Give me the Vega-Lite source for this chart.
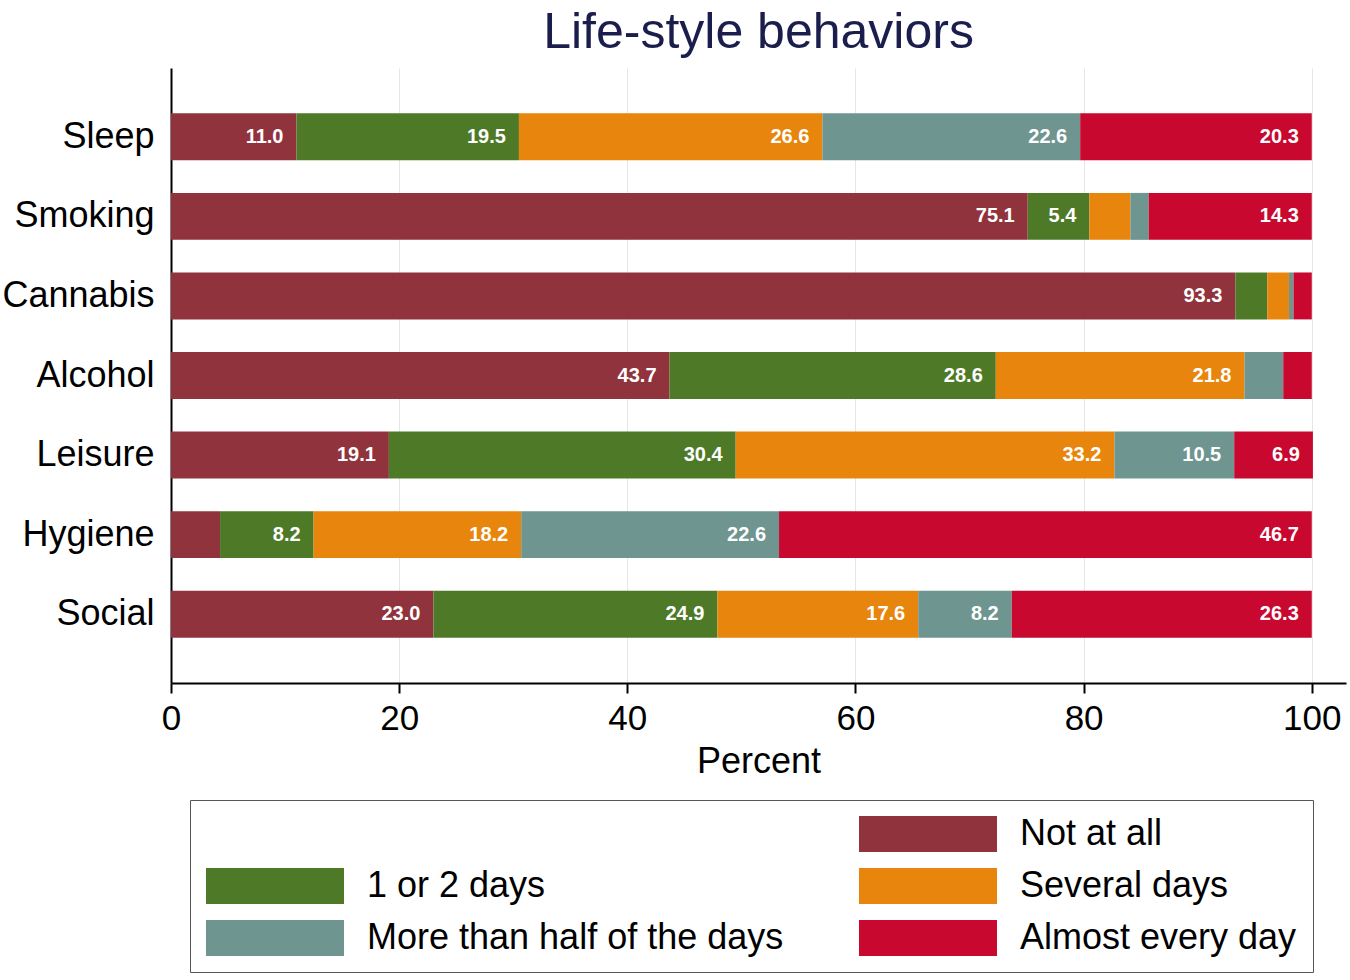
{
  "$schema": "https://vega.github.io/schema/vega-lite/v6.json",
  "autosize": "none",
  "padding": {"left": 171, "top": 68, "right": 4, "bottom": 297},
  "width": 1175,
  "height": 615,
  "background": "white",
  "title": {
    "text": "Life-style behaviors",
    "font": "Liberation Sans",
    "fontSize": 50,
    "fontWeight": "normal",
    "color": "#1b1e4c",
    "anchor": "middle",
    "offset": 10
  },
  "config": {
    "view": {"stroke": null},
    "font": "Liberation Sans"
  },
  "data": {
    "values": [
      {"item": "Sleep", "cat": "Not at all", "k": 1, "value": 11.0},
      {"item": "Sleep", "cat": "1 or 2 days", "k": 2, "value": 19.5},
      {"item": "Sleep", "cat": "Several days", "k": 3, "value": 26.6},
      {"item": "Sleep", "cat": "More than half of the days", "k": 4, "value": 22.6},
      {"item": "Sleep", "cat": "Almost every day", "k": 5, "value": 20.3},
      {"item": "Smoking", "cat": "Not at all", "k": 1, "value": 75.1},
      {"item": "Smoking", "cat": "1 or 2 days", "k": 2, "value": 5.4},
      {"item": "Smoking", "cat": "Several days", "k": 3, "value": 3.6},
      {"item": "Smoking", "cat": "More than half of the days", "k": 4, "value": 1.6},
      {"item": "Smoking", "cat": "Almost every day", "k": 5, "value": 14.3},
      {"item": "Cannabis", "cat": "Not at all", "k": 1, "value": 93.3},
      {"item": "Cannabis", "cat": "1 or 2 days", "k": 2, "value": 2.8},
      {"item": "Cannabis", "cat": "Several days", "k": 3, "value": 1.9},
      {"item": "Cannabis", "cat": "More than half of the days", "k": 4, "value": 0.4},
      {"item": "Cannabis", "cat": "Almost every day", "k": 5, "value": 1.6},
      {"item": "Alcohol", "cat": "Not at all", "k": 1, "value": 43.7},
      {"item": "Alcohol", "cat": "1 or 2 days", "k": 2, "value": 28.6},
      {"item": "Alcohol", "cat": "Several days", "k": 3, "value": 21.8},
      {"item": "Alcohol", "cat": "More than half of the days", "k": 4, "value": 3.4},
      {"item": "Alcohol", "cat": "Almost every day", "k": 5, "value": 2.5},
      {"item": "Leisure", "cat": "Not at all", "k": 1, "value": 19.1},
      {"item": "Leisure", "cat": "1 or 2 days", "k": 2, "value": 30.4},
      {"item": "Leisure", "cat": "Several days", "k": 3, "value": 33.2},
      {"item": "Leisure", "cat": "More than half of the days", "k": 4, "value": 10.5},
      {"item": "Leisure", "cat": "Almost every day", "k": 5, "value": 6.9},
      {"item": "Hygiene", "cat": "Not at all", "k": 1, "value": 4.3},
      {"item": "Hygiene", "cat": "1 or 2 days", "k": 2, "value": 8.2},
      {"item": "Hygiene", "cat": "Several days", "k": 3, "value": 18.2},
      {"item": "Hygiene", "cat": "More than half of the days", "k": 4, "value": 22.6},
      {"item": "Hygiene", "cat": "Almost every day", "k": 5, "value": 46.7},
      {"item": "Social", "cat": "Not at all", "k": 1, "value": 23.0},
      {"item": "Social", "cat": "1 or 2 days", "k": 2, "value": 24.9},
      {"item": "Social", "cat": "Several days", "k": 3, "value": 17.6},
      {"item": "Social", "cat": "More than half of the days", "k": 4, "value": 8.2},
      {"item": "Social", "cat": "Almost every day", "k": 5, "value": 26.3}
    ]
  },
  "transform": [
    {"stack": "value", "groupby": ["item"], "sort": [{"field": "k", "order": "ascending"}], "as": ["x0", "x1"]}
  ],
  "encoding": {
    "y": {
      "field": "item",
      "type": "nominal",
      "sort": ["Sleep", "Smoking", "Cannabis", "Alcohol", "Leisure", "Hygiene", "Social"],
      "scale": {"paddingInner": 0.41, "paddingOuter": 0.57},
      "axis": {
        "title": null,
        "ticks": false,
        "grid": false,
        "domainColor": "black",
        "domainWidth": 2,
        "labelFont": "Liberation Sans",
        "labelFontSize": 36,
        "labelColor": "black",
        "labelPadding": 17,
        "labelLimit": 300
      }
    }
  },
  "layer": [
    {
      "mark": {"type": "bar"},
      "encoding": {
        "x": {
          "field": "x0",
          "type": "quantitative",
          "scale": {"domain": [0, 103], "nice": false, "zero": true},
          "axis": {
            "title": "Percent",
            "values": [0, 20, 40, 60, 80, 100],
            "grid": true,
            "gridColor": "#e6e6e6",
            "gridWidth": 1,
            "domainColor": "black",
            "domainWidth": 2,
            "tickColor": "black",
            "tickWidth": 2,
            "tickSize": 10,
            "labelFont": "Liberation Sans",
            "labelFontSize": 35,
            "labelColor": "black",
            "labelPadding": 8,
            "labelFlush": false,
            "titleFont": "Liberation Sans",
            "titleFontSize": 36,
            "titleFontWeight": "normal",
            "titleColor": "black",
            "titlePadding": 8
          }
        },
        "x2": {"field": "x1"},
        "color": {
          "field": "cat",
          "type": "nominal",
          "scale": {
            "domain": [" ", "Not at all", "1 or 2 days", "Several days", "More than half of the days", "Almost every day"],
            "range": ["transparent", "#90333c", "#4e7a27", "#e8850c", "#6f9590", "#c8082f"]
          },
          "legend": {
            "title": null,
            "orient": "none",
            "legendX": 19,
            "legendY": 732,
            "direction": "horizontal",
            "columns": 2,
            "columnPadding": 75,
            "rowPadding": 16,
            "padding": 16,
            "strokeColor": "#555555",
            "fillColor": "white",
            "symbolType": "M-3.833,-1H3.833V1H-3.833Z",
            "symbolSize": 1296,
            "symbolOffset": 51,
            "symbolStrokeWidth": 0,
            "symbolOpacity": 1,
            "labelFont": "Liberation Sans",
            "labelFontSize": 36,
            "labelColor": "black",
            "labelOffset": 74,
            "labelLimit": 600
          }
        }
      }
    },
    {
      "transform": [{"filter": "datum.value >= 5"}],
      "mark": {
        "type": "text",
        "align": "right",
        "baseline": "middle",
        "dx": -13,
        "color": "white",
        "font": "Liberation Sans",
        "fontWeight": "bold",
        "fontSize": 20
      },
      "encoding": {
        "x": {"field": "x1", "type": "quantitative"},
        "text": {"field": "value", "type": "quantitative", "format": ".1f"}
      }
    }
  ]
}
